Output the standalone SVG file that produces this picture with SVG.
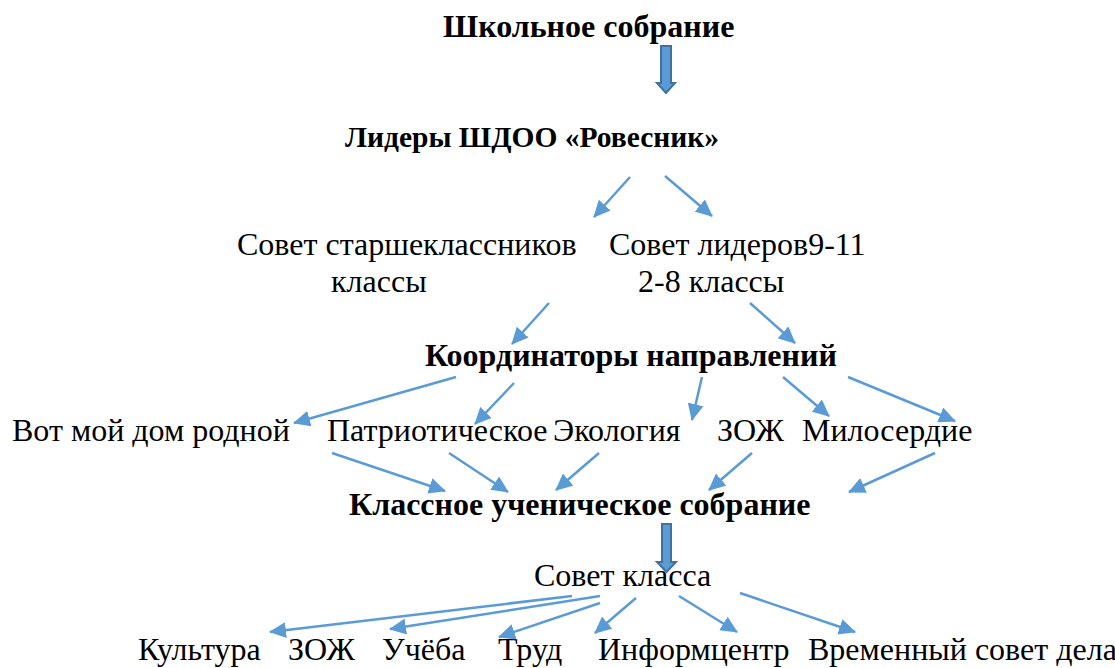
<svg xmlns="http://www.w3.org/2000/svg" width="1115" height="668" viewBox="0 0 1115 668">
<style>
text{font-family:'Liberation Serif','Times New Roman',serif;fill:#000;font-size:32px}
.b{font-weight:bold}
.s{font-size:29.5px}
.c{stroke:#5b9bd5;stroke-width:2.5;fill:none}
.blk{fill:#5b9bd5;stroke:#41719c;stroke-width:2}
</style>
<defs>
<marker id="ah" markerUnits="userSpaceOnUse" markerWidth="18" markerHeight="16" refX="16" refY="8" orient="auto">
<path d="M0,0 L17,8 L0,16 Z" fill="#5b9bd5"/>
</marker>
</defs>
<rect width="1115" height="668" fill="#fff"/>
<g id="n1"><text class="b" x="443" y="37">Школьное собрание</text></g>
<g id="n2"><text class="b s" x="345" y="147">Лидеры ШДОО «Ровесник»</text></g>
<g id="n3"><text x="237" y="255">Совет старшеклассников</text><text x="331" y="292">классы</text></g>
<g id="n4"><text x="609" y="255">Совет лидеров9-11</text><text x="638" y="292">2-8 классы</text></g>
<g id="n5"><text class="b" x="425" y="366">Координаторы направлений</text></g>
<g id="n6"><text x="12" y="441">Вот мой дом родной</text></g>
<g id="n7"><text x="327" y="441">Патриотическое</text></g>
<g id="n8"><text x="553" y="441">Экология</text></g>
<g id="n9"><text x="717" y="441">ЗОЖ</text></g>
<g id="n10"><text x="802" y="441">Милосердие</text></g>
<g id="n11"><text class="b" x="349" y="515">Классное ученическое собрание</text></g>
<g id="n12"><text x="534" y="586">Совет класса</text></g>
<g id="n13"><text x="138" y="660">Культура</text></g>
<g id="n14"><text x="288" y="660">ЗОЖ</text></g>
<g id="n15"><text x="382" y="660">Учёба</text></g>
<g id="n16"><text x="498" y="660">Труд</text></g>
<g id="n17"><text x="598" y="660">Информцентр</text></g>
<g id="n18"><text x="808" y="660">Временный совет дела</text></g>
<g id="connectors">
<path class="blk" d="M661,46 H671 V83 H675 L666,93 L657,83 H661 Z"/>
<path class="blk" d="M662,524 H671 V562 H676 L666.5,572 L657,562 H662 Z"/>
<line class="c" marker-end="url(#ah)" x1="630" y1="177" x2="594" y2="217"/>
<line class="c" marker-end="url(#ah)" x1="665" y1="176" x2="712" y2="216"/>
<line class="c" marker-end="url(#ah)" x1="549" y1="303" x2="512" y2="344"/>
<line class="c" marker-end="url(#ah)" x1="750" y1="303" x2="795" y2="343"/>
<line class="c" marker-end="url(#ah)" x1="456" y1="377" x2="294" y2="423"/>
<line class="c" marker-end="url(#ah)" x1="514" y1="383" x2="475" y2="424"/>
<line class="c" marker-end="url(#ah)" x1="702" y1="377" x2="692" y2="420"/>
<line class="c" marker-end="url(#ah)" x1="783" y1="377" x2="829" y2="416"/>
<line class="c" marker-end="url(#ah)" x1="848" y1="377" x2="955" y2="421"/>
<line class="c" marker-end="url(#ah)" x1="332" y1="453" x2="445" y2="491"/>
<line class="c" marker-end="url(#ah)" x1="449" y1="453" x2="508" y2="492"/>
<line class="c" marker-end="url(#ah)" x1="599" y1="453" x2="556" y2="490"/>
<line class="c" marker-end="url(#ah)" x1="752" y1="453" x2="709" y2="490"/>
<line class="c" marker-end="url(#ah)" x1="935" y1="453" x2="849" y2="492"/>
<line class="c" marker-end="url(#ah)" x1="572" y1="596" x2="270" y2="632"/>
<line class="c" marker-end="url(#ah)" x1="600" y1="596" x2="390" y2="629"/>
<line class="c" marker-end="url(#ah)" x1="600" y1="603" x2="499" y2="637"/>
<line class="c" marker-end="url(#ah)" x1="636" y1="598" x2="595" y2="633"/>
<line class="c" marker-end="url(#ah)" x1="679" y1="596" x2="737" y2="632"/>
<line class="c" marker-end="url(#ah)" x1="740" y1="593" x2="855" y2="632"/>
</g>
</svg>
